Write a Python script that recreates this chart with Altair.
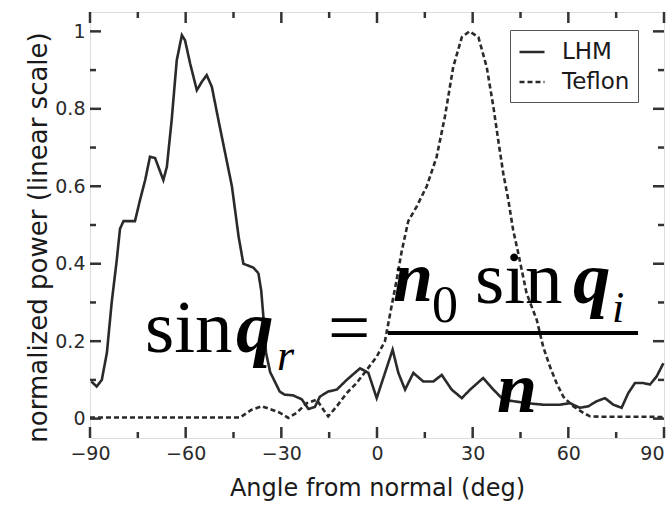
import altair as alt
import pandas as pd

# ---- data ----
lhm_angle = [-89.6, -87.9, -86.3, -84.7, -83.2, -81.6, -80.6, -79.5, -75.9, -74.3,
             -72.7, -71.2, -69.6, -67.0, -65.9, -64.4, -62.8, -61.2, -60.2, -58.6,
             -56.5, -54.9, -53.4, -51.8, -49.7, -47.6, -45.5, -43.4, -41.9, -38.8,
             -37.2, -36.3, -35.5, -34.8, -33.5, -32.0, -30.5, -29.0, -26.3, -23.6,
             -21.5, -19.5, -17.9, -15.3, -12.6, -9.5, -5.3, -2.7, -0.1, 2.5,
             4.9, 6.7, 8.8, 11.4, 14.5, 17.7, 20.3, 23.4, 26.6, 29.2,
             33.3, 36.5, 39.6, 46.9, 52.1, 57.4, 60.5, 63.6, 66.3, 68.9,
             71.5, 74.1, 76.7, 78.8, 80.9, 83.5, 85.6, 87.7, 89.8]
lhm_power = [0.096, 0.083, 0.100, 0.170, 0.300, 0.410, 0.490, 0.510, 0.510, 0.565,
             0.616, 0.676, 0.673, 0.616, 0.650, 0.770, 0.925, 0.990, 0.977, 0.917,
             0.848, 0.870, 0.887, 0.857, 0.770, 0.685, 0.600, 0.470, 0.400, 0.390,
             0.376, 0.330, 0.250, 0.170, 0.120, 0.095, 0.070, 0.062, 0.060, 0.050,
             0.025, 0.030, 0.057, 0.070, 0.075, 0.100, 0.130, 0.118, 0.053, 0.118,
             0.178, 0.118, 0.075, 0.118, 0.096, 0.096, 0.113, 0.075, 0.053, 0.075,
             0.105, 0.075, 0.049, 0.040, 0.036, 0.036, 0.040, 0.028, 0.032, 0.045,
             0.053, 0.036, 0.028, 0.066, 0.092, 0.092, 0.088, 0.109, 0.143]

teflon_angle = [-90, -80, -70, -60, -50, -43, -39.3, -36.1, -33.0, -30.4,
                -27.8, -25.2, -22.0, -18.9, -16.8, -15.3, -12.6, -9.5, -6.4, -3.2,
                -0.1, 2.5, 4.1, 6.2, 7.7, 9.8, 12.4, 15.6, 18.7, 21.3,
                23.9, 26.6, 29.0, 31.8, 34.4, 36.5, 38.0, 39.6, 41.2, 42.7,
                44.3, 46.9, 50.1, 52.1, 54.2, 56.3, 58.4, 61.5, 64.7, 66.8,
                70, 75, 80, 85, 90]
teflon_power = [0.003, 0.003, 0.003, 0.003, 0.003, 0.003, 0.023, 0.032, 0.023, 0.015,
                0.002, 0.015, 0.040, 0.049, 0.023, 0.006, 0.032, 0.066, 0.092, 0.126,
                0.160, 0.200, 0.270, 0.360, 0.430, 0.510, 0.547, 0.600, 0.676, 0.780,
                0.908, 0.985, 1.000, 0.985, 0.908, 0.805, 0.720, 0.633, 0.564, 0.487,
                0.427, 0.324, 0.255, 0.186, 0.135, 0.092, 0.057, 0.032, 0.015, 0.006,
                0.005, 0.005, 0.005, 0.005, 0.004]

series_names = ["LHM", "Teflon"]
x_major = [-90, -60, -30, 0, 30, 60, 90]
x_minor = [-75, -45, -15, 15, 45, 75]
y_major = [0, 0.2, 0.4, 0.6, 0.8, 1.0]
y_minor = [0.1, 0.3, 0.5, 0.7, 0.9]
formula_parts = ["sin", "q", "r", "=", "n", "0", "sin", "q", "i", "n"]

W, H = 574, 426
XD = [-90, 90]
YD = [-0.05, 1.05]

df = pd.concat([
    pd.DataFrame({"angle": lhm_angle, "power": lhm_power, "series": series_names[0]}),
    pd.DataFrame({"angle": teflon_angle, "power": teflon_power, "series": series_names[1]}),
])

xs = alt.Scale(domain=XD, nice=False, zero=False)
ys = alt.Scale(domain=YD, nice=False, zero=False)

lines = alt.Chart(df).mark_line(color="#2a2a2a", strokeWidth=2.6).encode(
    x=alt.X("angle:Q", scale=xs, title="Angle from normal (deg)",
            axis=alt.Axis(values=x_major, ticks=False, domain=False, grid=False,
                          labelFlush=False, labelOverlap=False,
                          labelAlign=alt.expr("datum.value == 90 ? 'right' : 'center'"),
                          labelFont="DejaVu Sans", labelFontSize=19, labelColor="#2a2a2a",
                          labelPadding=6, titleFont="DejaVu Sans", titleFontSize=24,
                          titleFontWeight="normal", titleColor="#1a1a1a",
                          titleY=57, titleBaseline="alphabetic")),
    y=alt.Y("power:Q", scale=ys, title="normalized power (linear scale)",
            axis=alt.Axis(values=y_major, format="~g", ticks=False, domain=False, grid=False,
                          labelFlush=False, labelOverlap=False,
                          labelFont="DejaVu Sans", labelFontSize=19, labelColor="#2a2a2a",
                          labelPadding=5, titleFont="DejaVu Sans", titleFontSize=26,
                          titleFontWeight="normal", titleColor="#1a1a1a",
                          titleX=-52, titleY=225, titleBaseline="middle", titleAngle=-90)),
    strokeDash=alt.StrokeDash("series:N",
                              scale=alt.Scale(domain=series_names, range=[[1, 0], [5, 3]]),
                              legend=alt.Legend(title=None, orient="none", legendX=420, legendY=18,
                                                symbolType="stroke", symbolSize=625,
                                                symbolStrokeColor="#2a2a2a", symbolStrokeWidth=2.6,
                                                labelFont="DejaVu Sans", labelFontSize=23,
                                                labelColor="#1a1a1a", labelOffset=16,
                                                rowPadding=4, padding=8,
                                                strokeColor="#555")),
)

xt_major = pd.DataFrame({"v": x_major})
xt_minor = pd.DataFrame({"v": x_minor})
yt_major = pd.DataFrame({"v": y_major})
yt_minor = pd.DataFrame({"v": y_minor})

def xticks(d, L):
    top = alt.Chart(d).mark_rule(color="#333", strokeWidth=2.5).encode(
        x=alt.X("v:Q", scale=xs), y=alt.value(0), y2=alt.value(L))
    bot = alt.Chart(d).mark_rule(color="#333", strokeWidth=2.5).encode(
        x=alt.X("v:Q", scale=xs), y=alt.value(H), y2=alt.value(H - L))
    return [top, bot]

def yticks(d, L):
    left = alt.Chart(d).mark_rule(color="#333", strokeWidth=2.5).encode(
        y=alt.Y("v:Q", scale=ys), x=alt.value(0), x2=alt.value(L))
    right = alt.Chart(d).mark_rule(color="#333", strokeWidth=2.5).encode(
        y=alt.Y("v:Q", scale=ys), x=alt.value(W), x2=alt.value(W - L))
    return [left, right]

ticks = xticks(xt_major, 11) + xticks(xt_minor, 6) + yticks(yt_major, 11) + yticks(yt_minor, 6)

# formula overlay: (text index, x, y, size, style, weight)
serif = "Liberation Serif"
fp = [
    (0, 55, 340, 75, "normal", "normal"),
    (1, 146, 340, 75, "italic", "bold"),
    (2, 187, 358, 44, "italic", "normal"),
    (3, 238, 340, 75, "normal", "normal"),
    (4, 303, 289, 72, "italic", "bold"),
    (5, 342, 310, 52, "normal", "normal"),
    (6, 385, 291, 75, "normal", "normal"),
    (7, 483, 291, 75, "italic", "bold"),
    (8, 522, 310, 44, "italic", "normal"),
    (9, 407, 400, 72, "italic", "bold"),
]
texts = []
for i, x, y, s, st, wt in fp:
    texts.append(
        alt.Chart(pd.DataFrame({"t": [formula_parts[i]]})).mark_text(
            font=serif, fontSize=s, fontStyle=st, fontWeight=wt, color="black",
            align="left", baseline="alphabetic").encode(
            text="t:N", x=alt.value(x), y=alt.value(y))
    )
frac = alt.Chart(pd.DataFrame({"t": [0]})).mark_rule(color="black", strokeWidth=4).encode(
    x=alt.value(298), x2=alt.value(548), y=alt.value(321))

chart = alt.layer(lines, *ticks, *texts, frac).properties(
    width=W, height=H,
    autosize=alt.AutoSizeParams(type="none"),
    padding={"left": 90, "top": 12, "right": 8, "bottom": 71},
).configure_view(stroke="#1a1a1a", strokeWidth=3.5).configure(background="white")

chart.save("out.html", embed_options={"renderer": "svg", "actions": False})
